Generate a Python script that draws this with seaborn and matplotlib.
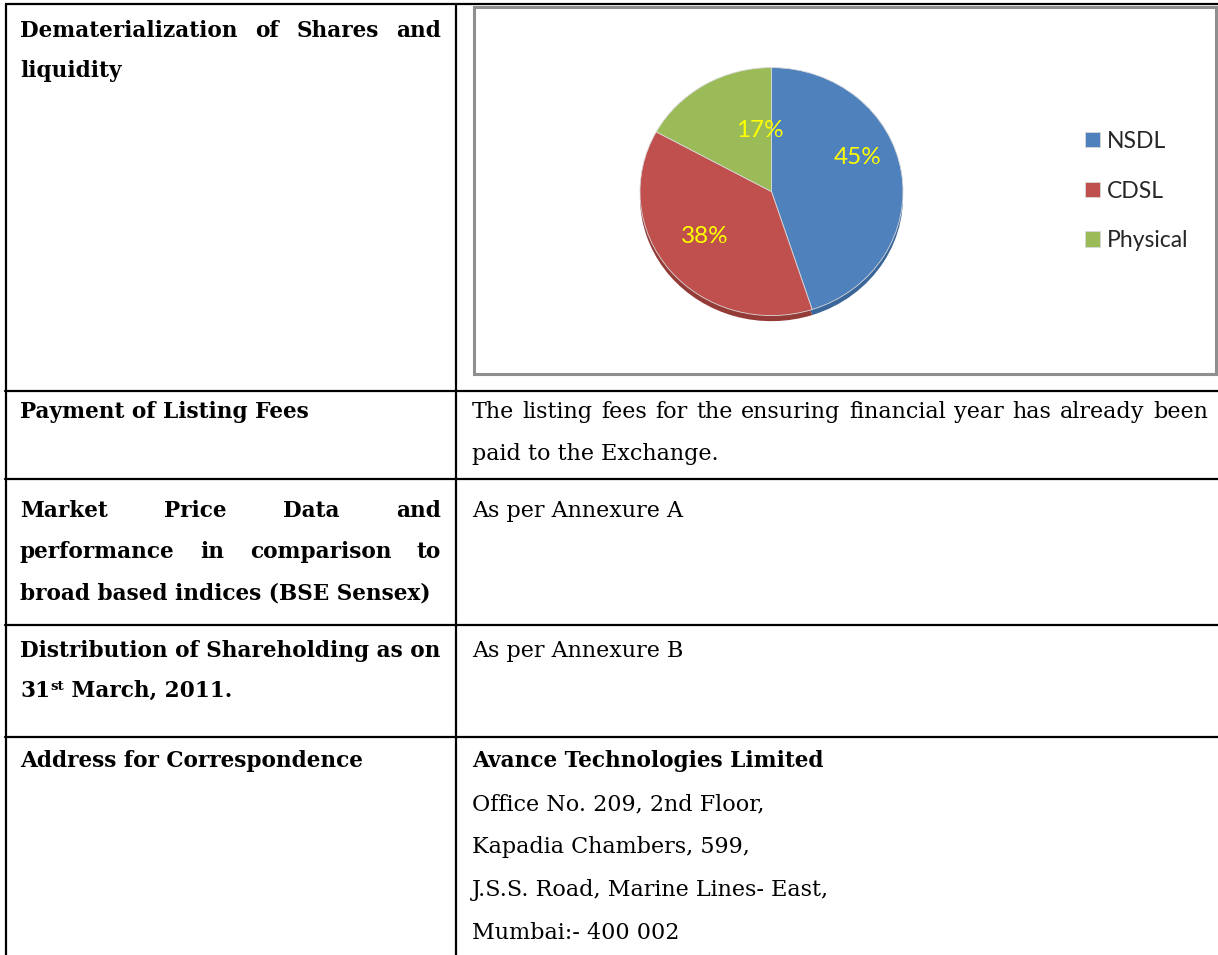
import numpy as np
import pandas as pd
import seaborn as sns
import matplotlib.pyplot as plt
from matplotlib.patches import Rectangle

# pie data
holders = ["NSDL", "CDSL", "Physical"]
share_pct = [45, 38, 17]
slice_colors = ["#4F81BD", "#C0504D", "#9BBB59"]
depth_colors = ["#3B6699", "#943A37", "#7A9744"]

# table text, one list per row
left_cells = [
    ["Dematerialization of Shares and", "liquidity"],
    ["Payment of Listing Fees"],
    ["Market Price Data and", "performance in comparison to", "broad based indices (BSE Sensex)"],
    ["Distribution of Shareholding as on", "31|st| March, 2011."],
    ["Address for Correspondence"],
]
left_justified = [[True, False], [False], [True, True, False], [False, False], [False]]

right_cells = [
    [],
    ["The listing fees for the ensuring financial year has already been", "paid to the Exchange."],
    ["As per Annexure A"],
    ["As per Annexure B"],
    ["Avance Technologies Limited", "Office No. 209, 2nd Floor,", "Kapadia Chambers, 599,",
     "J.S.S. Road, Marine Lines- East,", "Mumbai:- 400 002"],
]
right_justified = [[], [True, False], [False], [False], [False] * 5]

# layout in pixels
W, H = 1218, 955
row_tops = [4, 391, 479, 625, 737]
first_base = [33, 27, 38, 32, 30]
line_gap = [40, 42, 41, 40, 43]
left_x0, left_x1 = 20, 441
mid_x = 456
right_x0, right_x1 = 472, 1208
bold_size, plain_size = 15.6, 16
# pixel nudges for the percentage labels (x right, y down)
label_nudge = [(3, -22), (-2, -6), (31, 7)]

sns.set_theme(style="white")
serif = ["DejaVu Serif"]
sans = ["Lato", "DejaVu Sans"]

fig = plt.figure(figsize=(W / 100, H / 100), dpi=100)
ax = fig.add_axes([0, 0, 1, 1])
ax.set_xlim(0, W)
ax.set_ylim(H, 0)
ax.axis("off")
renderer = fig.canvas.get_renderer()


def width_of(t):
    return t.get_window_extent(renderer).width


def put_line(text, x0, x1, y, justify, **kw):
    if "|" in text:
        # superscript piece: "31|st| March"
        parts = text.split("|")
        x = x0
        small = {k: v for k, v in kw.items() if k != "fontsize"}
        for i, p in enumerate(parts):
            if i == 1:
                t = ax.text(x, y - 7, p, fontsize=kw["fontsize"] * 0.62, **small)
            else:
                t = ax.text(x, y, p, **kw)
            x += width_of(t)
        return
    if not justify:
        ax.text(x0, y, text, **kw)
        return
    words = text.split(" ")
    texts = [ax.text(0, y, w, **kw) for w in words]
    widths = [width_of(t) for t in texts]
    gap = (x1 - x0 - sum(widths)) / (len(words) - 1)
    x = x0
    for t, w in zip(texts, widths):
        t.set_x(x)
        x += w + gap


for r, top in enumerate(row_tops):
    for i, line in enumerate(left_cells[r]):
        put_line(line, left_x0, left_x1, top + first_base[r] + i * line_gap[r],
                 left_justified[r][i], fontsize=bold_size, fontweight="bold",
                 family=serif, color="black", va="baseline")
    for i, line in enumerate(right_cells[r]):
        bold = r == 4 and i == 0
        put_line(line, right_x0, right_x1, top + first_base[r] + i * line_gap[r],
                 right_justified[r][i], fontsize=bold_size if bold else plain_size,
                 fontweight="bold" if bold else "normal",
                 family=serif, color="black", va="baseline")

# table rules
lw = 1.6
ax.plot([5, W], [4, 4], color="black", lw=lw, solid_capstyle="butt")
for top in row_tops[1:]:
    ax.plot([5, W], [top, top], color="black", lw=lw)
ax.plot([6, 6], [4, H], color="black", lw=lw)
ax.plot([mid_x, mid_x], [4, H], color="black", lw=lw)

# chart frame
ax.add_patch(Rectangle((474, 7), 742, 367, fill=False, edgecolor="#8f8f8f", lw=2.2))

# pie chart
cx, cy, rx, ry = 771.5, 186, 131.5, 124
depth = 0.045
pie_ax = fig.add_axes([(cx - rx) / W, 1 - (cy + ry * (1 + 2 * depth)) / H,
                       2 * rx / W, ry * (2 + depth) / H])
pie_ax.pie(share_pct, colors=depth_colors, startangle=90, counterclock=False,
           center=(0, -depth), wedgeprops=dict(linewidth=0))
wedges, _, pct_texts = pie_ax.pie(
    share_pct, colors=slice_colors, startangle=90, counterclock=False,
    autopct="%d%%", pctdistance=0.64,
    wedgeprops=dict(linewidth=0.6, edgecolor="#d9d9d9"),
    textprops=dict(color="#FFFF00", fontsize=17.5, family=sans))
for t, (dx, dy) in zip(pct_texts, label_nudge):
    px, py = t.get_position()
    t.set_position((px + dx / rx, py - dy / ry))
pie_ax.set_aspect("auto")
pie_ax.set_xlim(-1, 1)
pie_ax.set_ylim(-1 - depth, 1)
pie_ax.axis("off")

fig.legend(wedges, holders, loc="center left", bbox_to_anchor=(1064 / W, 1 - 191 / H),
           frameon=False, handlelength=0.65, handleheight=0.65, handletextpad=0.3,
           labelspacing=1.25, prop=dict(family=sans, size=16.5))

fig.savefig("out.png", dpi=100)
